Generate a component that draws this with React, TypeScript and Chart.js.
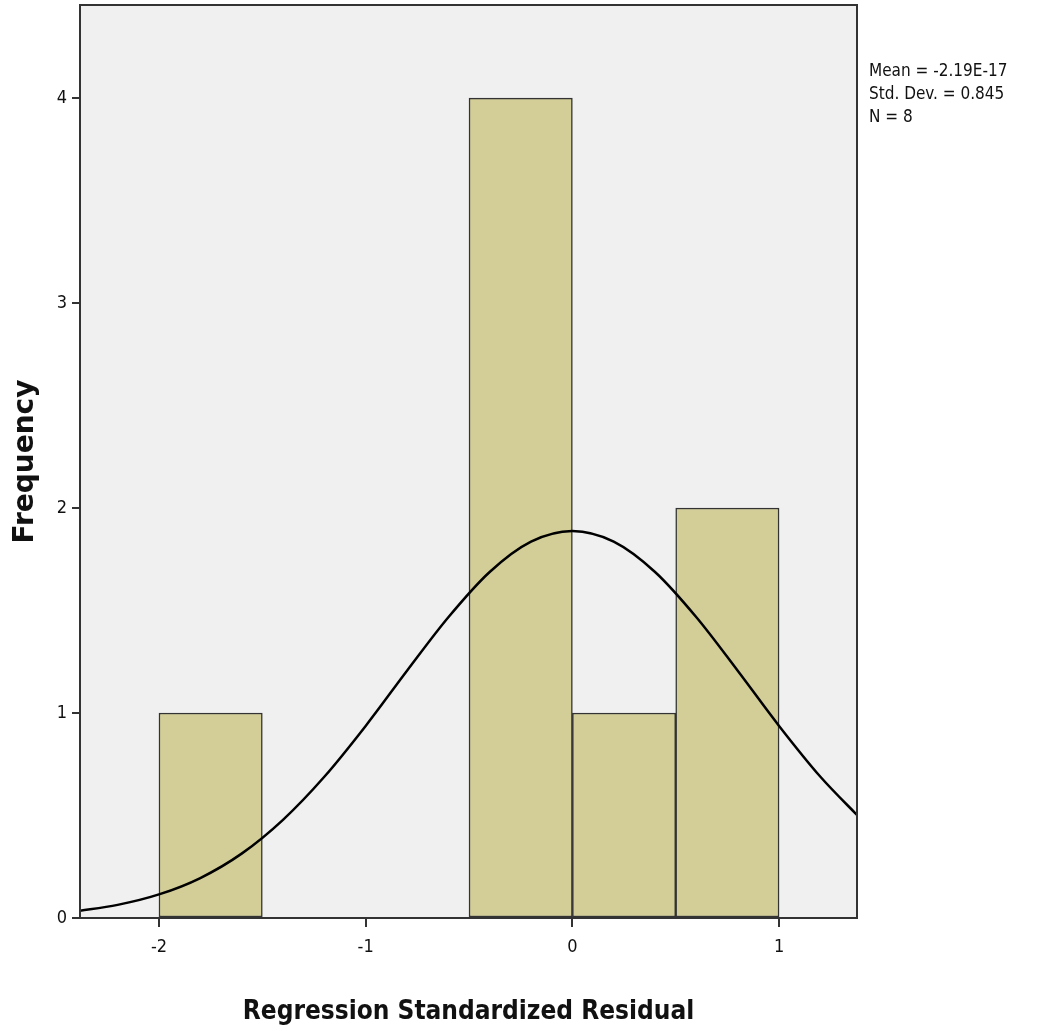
import React, { useEffect, useRef } from "react";
import { Chart, registerables } from "chart.js";

Chart.register(...registerables);

// Histogram bins (centre of each 0.5-wide bin) and their counts
const binCenters = [-1.75, -0.25, 0.25, 0.75];
const binCounts = [1, 4, 1, 2];

// Normal curve
const curveX = [-2.4, -2.2, -2.0, -1.8, -1.6, -1.4, -1.2, -1.0, -0.8, -0.6, -0.4, -0.2, 0, 0.2, 0.4, 0.6, 0.8, 1.0, 1.2, 1.4];
const curveY = [0.033, 0.064, 0.115, 0.195, 0.314, 0.479, 0.689, 0.937, 1.206, 1.467, 1.688, 1.836, 1.888, 1.836, 1.688, 1.467, 1.206, 0.937, 0.689, 0.479];

const yTicks = [0, 1, 2, 3, 4];
const xTicks = [-2, -1, 0, 1];
const statsLines = ["Mean = -2.19E-17", "Std. Dev. = 0.845", "N = 8"];

const FONT = "'Liberation Sans Narrow', 'DejaVu Sans Condensed', 'Liberation Sans', Arial, sans-serif";

const frame = {
  id: "frame",
  beforeDraw(chart: any) {
    const { ctx, chartArea: a } = chart;
    ctx.save();
    ctx.fillStyle = "#f0f0f0";
    ctx.fillRect(a.left, a.top, a.right - a.left, a.bottom - a.top);
    ctx.restore();
  },
  afterDraw(chart: any) {
    const { ctx, chartArea: a } = chart;
    ctx.save();
    ctx.strokeStyle = "#333";
    ctx.lineWidth = 2;
    ctx.strokeRect(a.left, a.top, a.right - a.left, a.bottom - a.top);
    ctx.fillStyle = "#111";
    ctx.font = `17px ${FONT}`;
    ctx.textBaseline = "middle";
    ctx.textAlign = "left";
    statsLines.forEach((t, i) => ctx.fillText(t, a.right + 12, 72 + i * 23));
    ctx.restore();
  },
};

export default function App() {
  const ref = useRef<HTMLCanvasElement>(null);
  useEffect(() => {
    document.body.style.margin = "0";
    const chart = new Chart(ref.current!, {
      type: "bar",
      data: {
        datasets: [
          {
            type: "line",
            data: curveX.map((x, i) => ({ x, y: curveY[i] })),
            borderColor: "#000",
            borderWidth: 2.5,
            pointRadius: 0,
            cubicInterpolationMode: "monotone",
            fill: false,
            order: 0,
          } as any,
          {
            type: "bar",
            data: binCenters.map((x, i) => ({ x, y: binCounts[i] })),
            backgroundColor: "#d3ce97",
            borderColor: "#333",
            borderWidth: 1.5,
            borderSkipped: false,
            barPercentage: 1,
            categoryPercentage: 1,
            order: 1,
          } as any,
        ],
      },
      options: {
        animation: false,
        responsive: false,
        maintainAspectRatio: false,
        layout: { padding: { top: 5, right: 181, left: 0, bottom: 0 } },
        plugins: { legend: { display: false }, tooltip: { enabled: false } },
        scales: {
          x: {
            type: "linear",
            offset: false,
            min: -2.382,
            max: 1.377,
            afterBuildTicks: (s: any) => { s.ticks = xTicks.map((v) => ({ value: v })); },
            afterFit: (s: any) => { s.height = 113; s.paddingLeft = 0; s.paddingRight = 0; },
            grid: { display: true, offset: false, drawOnChartArea: false, drawTicks: true, tickLength: 9, color: "#333", lineWidth: 2 },
            border: { display: false },
            ticks: { color: "#111", font: { family: FONT, size: 18 }, padding: 10 },
            title: { display: true, text: "Regression Standardized Residual", color: "#111", font: { family: FONT, size: 26, weight: "bold" }, padding: { top: 28, bottom: 3 } },
          },
          y: {
            type: "linear",
            min: 0,
            max: 4.454,
            afterBuildTicks: (s: any) => { s.ticks = yTicks.map((v) => ({ value: v })); },
            afterFit: (s: any) => { s.width = 80; s.paddingTop = 0; s.paddingBottom = 0; },
            grid: { display: true, drawOnChartArea: false, drawTicks: true, tickLength: 8, color: "#333", lineWidth: 2 },
            border: { display: false },
            ticks: { color: "#111", font: { family: FONT, size: 18 }, padding: 5 },
            title: { display: true, text: "Frequency", color: "#111", font: { family: "'DejaVu Sans', Verdana, sans-serif", size: 28, weight: "bold" }, padding: { top: 9, bottom: 0 } },
          },
        },
      },
      plugins: [frame],
    });
    return () => chart.destroy();
  }, []);
  return (
    <div style={{ position: "relative", width: 1038, height: 1031 }}>
      <canvas ref={ref} width={1038} height={1031} style={{ width: 1038, height: 1031 }} />
    </div>
  );
}
